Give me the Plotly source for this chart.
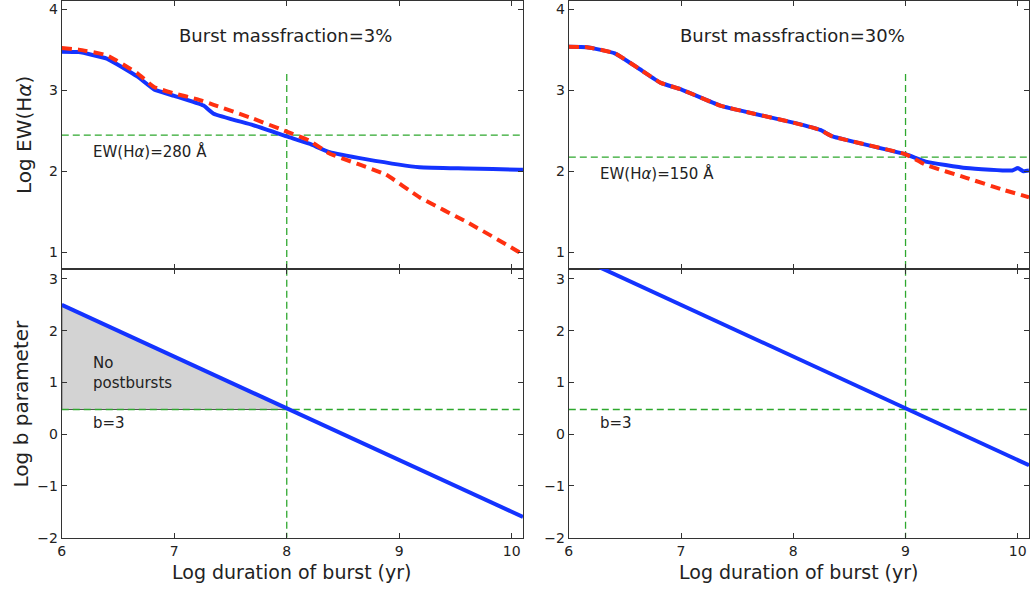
import numpy as np
import plotly.graph_objects as go

# ---------------- data ----------------
# Top-left panel: burst massfraction 3%
tl_blue_x = [6.0, 6.15, 6.4, 6.67, 6.82, 7.0, 7.26, 7.35, 7.7, 8.0, 8.2, 8.38, 8.7, 9.18, 9.6, 10.07, 10.1]
tl_blue_y = [3.475, 3.47, 3.39, 3.17, 3.01, 2.93, 2.81, 2.71, 2.57, 2.43, 2.34, 2.236, 2.15, 2.05, 2.035, 2.02, 2.02]
tl_red_x = [6.0, 6.15, 6.4, 6.67, 6.82, 7.0, 7.2, 7.35, 7.7, 8.0, 8.2, 8.38, 8.88, 9.18, 9.62, 10.07, 10.1]
tl_red_y = [3.52, 3.50, 3.43, 3.21, 3.04, 2.96, 2.89, 2.82, 2.65, 2.49, 2.38, 2.22, 1.96, 1.68, 1.36, 1.0, 0.96]

# Top-right panel: burst massfraction 30%
tr_blue_x = [6.0, 6.16, 6.41, 6.62, 6.82, 7.0, 7.35, 7.65, 8.0, 8.24, 8.35, 9.0, 9.18, 9.54, 9.95, 10.0, 10.05, 10.1]
tr_blue_y = [3.535, 3.53, 3.455, 3.27, 3.09, 3.01, 2.81, 2.71, 2.60, 2.51, 2.43, 2.21, 2.12, 2.04, 2.01, 2.04, 2.0, 2.01]
tr_red_x = [6.0, 6.16, 6.41, 6.62, 6.82, 7.0, 7.35, 7.65, 8.0, 8.24, 8.35, 9.0, 9.18, 9.54, 9.85, 10.1]
tr_red_y = [3.535, 3.53, 3.455, 3.27, 3.09, 3.01, 2.81, 2.71, 2.60, 2.51, 2.43, 2.21, 2.08, 1.92, 1.78, 1.68]

# Bottom panels: log b parameter vs log duration
bl_x = [6.0, 10.1]
bl_y = [2.5, -1.6]
br_x = [6.0, 10.1]
br_y = [3.5, -0.6]

# Reference values
ew_limits = [280, 150]            # EW(Halpha) in Angstrom
duration_marks = [8.0, 9.0]       # log duration where b=3 is reached
b_limit = 3
mass_fractions = ["3%", "30%"]

# ---------------- styling ----------------
BLUE = "#1433ff"
RED = "#ff3010"
GREEN = "#2ea82e"
TXT = "#222222"
FONT = "DejaVu Sans"

XR = [6, 10.1]
YR_TOP = [0.8, 4.1]
YR_BOT = [-2, 3.2]

fig = go.Figure()

xdom_l = [58 / 1030, 521 / 1030]
xdom_r = [567 / 1030, 1029 / 1030]
ydom_t = [(594 - 272.3) / 594, (594 - 1) / 594]
ydom_b = [(594 - 545) / 594, (594 - 272.3) / 594]

log_b = np.log10(b_limit)

def green_dash(xs, ys, xa, ya):
    fig.add_trace(go.Scatter(x=xs, y=ys, mode="lines", xaxis=xa, yaxis=ya,
                             line=dict(color=GREEN, width=1.3, dash="7px,4px"),
                             hoverinfo="skip", showlegend=False))

# ---- bottom-left fill (no postbursts region) ----
x_cross = float(np.interp(-log_b, [-bl_y[0], -bl_y[1]], bl_x))
fig.add_trace(go.Scatter(x=[bl_x[0], x_cross, bl_x[0], bl_x[0]],
                         y=[bl_y[0], log_b, log_b, bl_y[0]],
                         mode="lines", fill="toself", fillcolor="#d3d3d3",
                         line=dict(color="#555555", width=1.2),
                         xaxis="x3", yaxis="y3", hoverinfo="skip", showlegend=False))

axes_pairs = [("x", "y", "x3", "y3", tl_blue_x, tl_blue_y, tl_red_x, tl_red_y, bl_x, bl_y),
              ("x2", "y2", "x4", "y4", tr_blue_x, tr_blue_y, tr_red_x, tr_red_y, br_x, br_y)]

for i, (xt, yt, xb, yb, bx, by, rx, ry, lx, ly) in enumerate(axes_pairs):
    ew_log = np.log10(ew_limits[i])
    d = duration_marks[i]
    # green reference lines
    green_dash(XR, [ew_log, ew_log], xt, yt)
    green_dash([d, d], [3.2, YR_TOP[0]], xt, yt)
    green_dash(XR, [log_b, log_b], xb, yb)
    green_dash([d, d], [YR_BOT[1], YR_BOT[0]], xb, yb)
    # curves
    fig.add_trace(go.Scatter(x=bx, y=by, mode="lines", xaxis=xt, yaxis=yt,
                             line=dict(color=BLUE, width=4, shape="spline", smoothing=0.4),
                             showlegend=False))
    fig.add_trace(go.Scatter(x=rx, y=ry, mode="lines", xaxis=xt, yaxis=yt,
                             line=dict(color=RED, width=4, dash="10px,6px", shape="spline", smoothing=0.4),
                             showlegend=False))
    fig.add_trace(go.Scatter(x=lx, y=ly, mode="lines", xaxis=xb, yaxis=yb,
                             line=dict(color=BLUE, width=4), showlegend=False))

axis_common = dict(showgrid=False, zeroline=False, showline=True, linecolor="#333333",
                   linewidth=1.2, mirror="allticks", ticks="inside", ticklen=5,
                   tickcolor="#333333", tickwidth=1,
                   tickfont=dict(family=FONT, size=14, color=TXT))

fig.update_layout(
    width=1030, height=594,
    margin=dict(l=0, r=0, t=0, b=0),
    paper_bgcolor="white", plot_bgcolor="white",
    showlegend=False,
    xaxis=dict(domain=xdom_l, anchor="y", range=XR, dtick=1, showticklabels=False, **axis_common),
    yaxis=dict(domain=ydom_t, anchor="x", range=YR_TOP, dtick=1, **axis_common),
    xaxis2=dict(domain=xdom_r, anchor="y2", range=XR, dtick=1, showticklabels=False, **axis_common),
    yaxis2=dict(domain=ydom_t, anchor="x2", range=YR_TOP, dtick=1, **axis_common),
    xaxis3=dict(domain=xdom_l, anchor="y3", range=XR, dtick=1, **axis_common),
    yaxis3=dict(domain=ydom_b, anchor="x3", range=YR_BOT, dtick=1, **axis_common),
    xaxis4=dict(domain=xdom_r, anchor="y4", range=XR, dtick=1, **axis_common),
    yaxis4=dict(domain=ydom_b, anchor="x4", range=YR_BOT, dtick=1, **axis_common),
)

ann = []
def text(x, y, s, xref, yref, size=14, xanchor="left", yanchor="middle"):
    ann.append(dict(x=x, y=y, xref=xref, yref=yref, text=s, showarrow=False,
                    xanchor=xanchor, yanchor=yanchor, align="left",
                    font=dict(family=FONT, size=size, color=TXT)))

for i, (xt, yt, xb, yb) in enumerate([("x", "y", "x3", "y3"), ("x2", "y2", "x4", "y4")]):
    text(7.99, 3.68, "Burst massfraction=" + mass_fractions[i], xt, yt, size=18, xanchor="center")
    text(6.26, np.log10(ew_limits[i]) - 0.2, "EW(H<i>α</i>)=%d Å" % ew_limits[i], xt, yt, size=15)
    text(6.26, 0.21, "b=%d" % b_limit, xb, yb, size=15)

text(6.26, 1.19, "No<br>postbursts", "x3", "y3", size=15)

# axis titles
ann.append(dict(x=20 / 1030, y=(594 - 137) / 594, xref="paper", yref="paper",
                text="Log EW(H<i>α</i>)", textangle=-90, showarrow=False,
                xanchor="center", yanchor="middle", font=dict(family=FONT, size=20, color=TXT)))
ann.append(dict(x=18 / 1030, y=(594 - 409) / 594, xref="paper", yref="paper",
                text="Log b parameter", textangle=-90, showarrow=False,
                xanchor="center", yanchor="middle", font=dict(family=FONT, size=20, color=TXT)))
for cx in [(58 + 521) / 2 / 1030, (567 + 1029) / 2 / 1030]:
    ann.append(dict(x=cx, y=(594 - 580) / 594, xref="paper", yref="paper",
                    text="Log duration of burst (yr)", showarrow=False,
                    xanchor="center", yanchor="middle", font=dict(family=FONT, size=19, color=TXT)))

fig.update_layout(annotations=ann)
fig.write_html("out.html")
